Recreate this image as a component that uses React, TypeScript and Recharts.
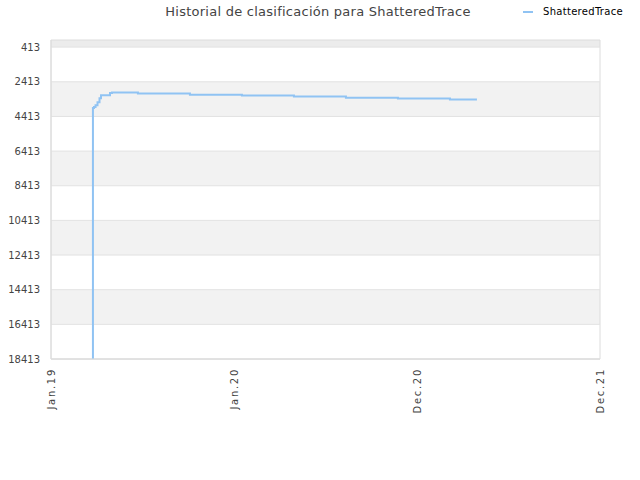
import { LineChart, Line, ReferenceArea, ReferenceLine, XAxis, YAxis } from 'recharts'

const title = 'Historial de clasificación para ShatteredTrace'
const seriesName = 'ShatteredTrace'

// x in months from Jan.19, y is the rank (lower is better)
const months = [2.75, 2.75, 2.82, 2.92, 3.05, 3.18, 3.28, 3.87, 4.0, 5.7, 9.11, 12.52, 15.93, 19.34, 22.75, 26.16, 27.93]
const ranks = [18413, 3933, 3875, 3760, 3587, 3356, 3183, 3067, 3038, 3096, 3154, 3211, 3269, 3327, 3384, 3442, 3442]

const xTicks = [0, 12, 24, 36]
const xLabels = ['Jan.19', 'Jan.20', 'Dec.20', 'Dec.21']
const yTicks = [413, 2413, 4413, 6413, 8413, 10413, 12413, 14413, 16413, 18413]

const data = months.map((m, i) => ({ m, rank: ranks[i] }))

const bandEdges = [1, ...yTicks]
const bands = bandEdges.slice(0, -1).map((y1, i) => ({
  y1,
  y2: bandEdges[i + 1],
  fill: i === 0 ? '#ececec' : i % 2 === 0 ? '#f2f2f2' : '#ffffff',
}))

const FONT = '"DejaVu Sans", sans-serif'

const XTick = ({ x, y, payload }: any) => {
  const idx = xTicks.indexOf(payload.value)
  return (
    <text
      x={x}
      y={y}
      transform={`rotate(-90, ${x}, ${y})`}
      dx={-1}
      dy={4}
      textAnchor="end"
      fontSize={10}
      letterSpacing={1.7}
      fill="#444"
      fontFamily={FONT}
    >
      {xLabels[idx]}
    </text>
  )
}

export default function App() {
  return (
    <div style={{ position: 'absolute', left: 0, top: 0, width: 640, height: 480, background: '#fff' }}>
      <div
        style={{
          position: 'absolute',
          left: 0,
          width: 636,
          top: 4,
          textAlign: 'center',
          fontFamily: FONT,
          fontSize: 13,
          letterSpacing: 0.25,
          color: '#444',
        }}
      >
        {title}
      </div>
      <div
        style={{
          position: 'absolute',
          left: 523,
          top: 6,
          display: 'flex',
          alignItems: 'center',
          fontFamily: FONT,
          fontSize: 10,
          letterSpacing: 0.3,
          color: '#000',
        }}
      >
        <span style={{ display: 'inline-block', width: 10, height: 2, background: '#90c3f3', marginRight: 10 }} />
        <span>{seriesName}</span>
      </div>
      <LineChart width={640} height={480} data={data} margin={{ top: 40, right: 40, bottom: 0, left: 0 }}>
        {bands.map((b) => (
          <ReferenceArea key={b.y1} y1={b.y1} y2={b.y2} fill={b.fill} fillOpacity={1} stroke="none" ifOverflow="hidden" />
        ))}
        {yTicks.map((t) => (
          <ReferenceLine key={t} y={t} stroke="#e2e2e2" />
        ))}
        <ReferenceArea y1={1} y2={18413} fill="none" stroke="#dcdcdc" strokeWidth={1} />
        <XAxis
          dataKey="m"
          type="number"
          domain={[0, 36]}
          ticks={xTicks}
          tick={<XTick />}
          tickLine={false}
          axisLine={{ stroke: '#dcdcdc' }}
          height={121}
          interval={0}
        />
        <YAxis
          type="number"
          reversed
          domain={[1, 18413]}
          ticks={yTicks}
          tickLine={false}
          axisLine={{ stroke: '#dcdcdc' }}
          width={51}
          interval={0}
          tick={{ fontSize: 10, fill: '#444', fontFamily: FONT, dx: -3 }}
        />
        <Line
          type="stepAfter"
          dataKey="rank"
          stroke="#90c3f3"
          strokeWidth={2}
          dot={false}
          activeDot={false}
          isAnimationActive={false}
        />
      </LineChart>
    </div>
  )
}
